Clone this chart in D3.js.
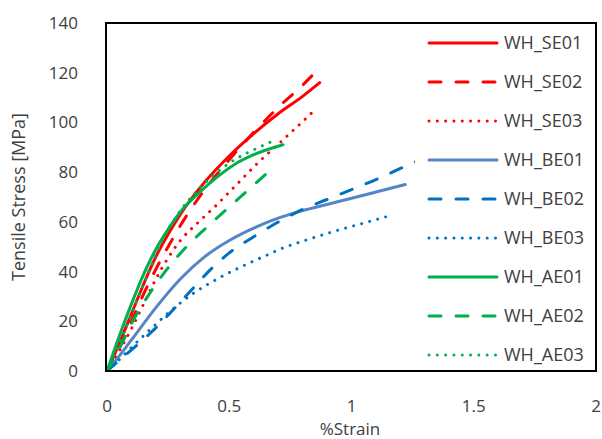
<!DOCTYPE html>
<html>
<head>
<meta charset="utf-8">
<script src="https://cdn.jsdelivr.net/npm/d3@7"></script>
<style>
html,body{margin:0;padding:0;background:#fff;}
svg text{font-family:"Open Sans","Noto Sans",sans-serif;fill:#404040;}
</style>
</head>
<body>
<svg id="chart" width="602" height="439"></svg>
<script>
// ---- data ----
const seriesNames = ["WH_SE01","WH_SE02","WH_SE03","WH_BE01","WH_BE02","WH_BE03","WH_AE01","WH_AE02","WH_AE03"];
const SE01 = [[0,0],[0.05,11],[0.1,23],[0.15,35],[0.2,46],[0.25,55],[0.3,63],[0.4,76],[0.5,86.5],[0.6,95.5],[0.7,103.5],[0.8,110.5],[0.87,116]];
const SE02 = [[0,0],[0.05,9],[0.1,20],[0.15,31],[0.2,41],[0.25,50],[0.3,58.5],[0.4,73],[0.5,85],[0.6,96],[0.7,106],[0.8,115],[0.87,122]];
const SE03 = [[0,0],[0.05,8],[0.1,17],[0.15,27],[0.2,37],[0.25,45.5],[0.3,52.5],[0.37,59.5],[0.44,66],[0.52,74],[0.62,84],[0.72,93],[0.78,98.5],[0.85,105]];
const BE01 = [[0,0],[0.05,6],[0.1,12.5],[0.2,25.5],[0.3,37],[0.4,46],[0.5,52.5],[0.6,57.5],[0.7,61.5],[0.8,64.5],[0.9,67],[1.0,69.5],[1.1,72],[1.22,75]];
const BE02 = [[0,0],[0.1,8.5],[0.18,15.5],[0.26,23.5],[0.34,32],[0.42,40.5],[0.5,47.5],[0.6,54],[0.72,61],[0.8,65],[0.9,69],[1.0,73],[1.1,77],[1.2,81.5],[1.32,86.5]];
const BE03 = [[0,0],[0.05,4.5],[0.1,9.5],[0.18,17],[0.27,25],[0.35,31],[0.45,37],[0.55,42],[0.64,46],[0.72,49.5],[0.8,52.2],[0.94,56.5],[1.05,59.5],[1.14,62]];
const AE01 = [[0,0],[0.05,14],[0.1,27],[0.15,39],[0.2,49],[0.25,57],[0.3,64],[0.38,72],[0.45,78],[0.52,83],[0.6,87],[0.72,91]];
const AE02 = [[0,0],[0.05,9],[0.1,19],[0.16,29],[0.23,39],[0.33,50.5],[0.41,58],[0.5,66],[0.58,73],[0.67,81]];
const AE03 = [[0,0],[0.05,11],[0.1,23],[0.15,35],[0.2,47],[0.25,57],[0.3,64.5],[0.35,70.5],[0.41,76.5],[0.47,81.5],[0.53,85.5],[0.6,89],[0.69,93]];
const seriesData = [SE01,SE02,SE03,BE01,BE02,BE03,AE01,AE02,AE03];
const xTicks = [0,0.5,1,1.5,2];
const yTicks = [0,20,40,60,80,100,120,140];

// ---- styles ----
const colors = ["#FF0000","#FF0000","#FF0000","#5585C5","#0070C0","#0070C0","#00B050","#00B050","#00B050"];
const dashes = ["none","12,15","0.01,8.3","none","12,15","0.01,8.3","none","12,15","0.01,8.3"];

const svg = d3.select("#chart");
const L=107, R=596, T=23, B=371;
const x = d3.scaleLinear().domain([0,2]).range([L,R]);
const y = d3.scaleLinear().domain([0,140]).range([B,T]);

svg.append("defs").append("clipPath").attr("id","clip")
  .append("rect").attr("x",L).attr("y",T).attr("width",R-L).attr("height",B-T);

const line = d3.line().x(d=>x(d[0])).y(d=>y(d[1])).curve(d3.curveMonotoneX);

const g = svg.append("g").attr("clip-path","url(#clip)");
seriesData.forEach((d,i)=>{
  g.append("path").attr("d",line(d)).attr("fill","none")
   .attr("stroke",colors[i]).attr("stroke-width",3)
   .attr("stroke-dasharray",dashes[i]).attr("stroke-linecap","round");
});

// legend
const lg = svg.append("g");
lg.append("rect").attr("x",415).attr("y",T).attr("width",R-415).attr("height",B-T).attr("fill","#fff");
seriesNames.forEach((n,i)=>{
  const yy = 43 + i*39;
  lg.append("line").attr("x1",429).attr("x2",497).attr("y1",yy).attr("y2",yy)
    .attr("stroke",colors[i]).attr("stroke-width",3)
    .attr("stroke-dasharray",dashes[i]).attr("stroke-linecap","round");
  lg.append("text").attr("x",504).attr("y",yy).attr("dy","0.35em")
    .attr("font-size",18).text(n);
});

// frame
svg.append("rect").attr("x",L-1).attr("y",T).attr("width",R-L+1).attr("height",B-T)
  .attr("fill","none").attr("stroke","#000").attr("stroke-width",2);

// tick labels
svg.selectAll(".yt").data(yTicks).enter().append("text")
  .attr("x",78).attr("y",d=>y(d)).attr("dy","0.35em").attr("text-anchor","end")
  .attr("font-size",17).text(d=>d);
svg.selectAll(".xt").data(xTicks).enter().append("text")
  .attr("x",d=>x(d)).attr("y",406).attr("dy","0.35em").attr("text-anchor","middle")
  .attr("font-size",17).text(d=>d);

// axis titles
svg.append("text").attr("transform","translate(19,197) rotate(-90)")
  .attr("text-anchor","middle").attr("dy","0.35em").attr("font-size",18).text("Tensile Stress [MPa]");
svg.append("text").attr("x",350).attr("y",429).attr("dy","0.35em")
  .attr("text-anchor","middle").attr("font-size",17).text("%Strain");
</script>
</body>
</html>
